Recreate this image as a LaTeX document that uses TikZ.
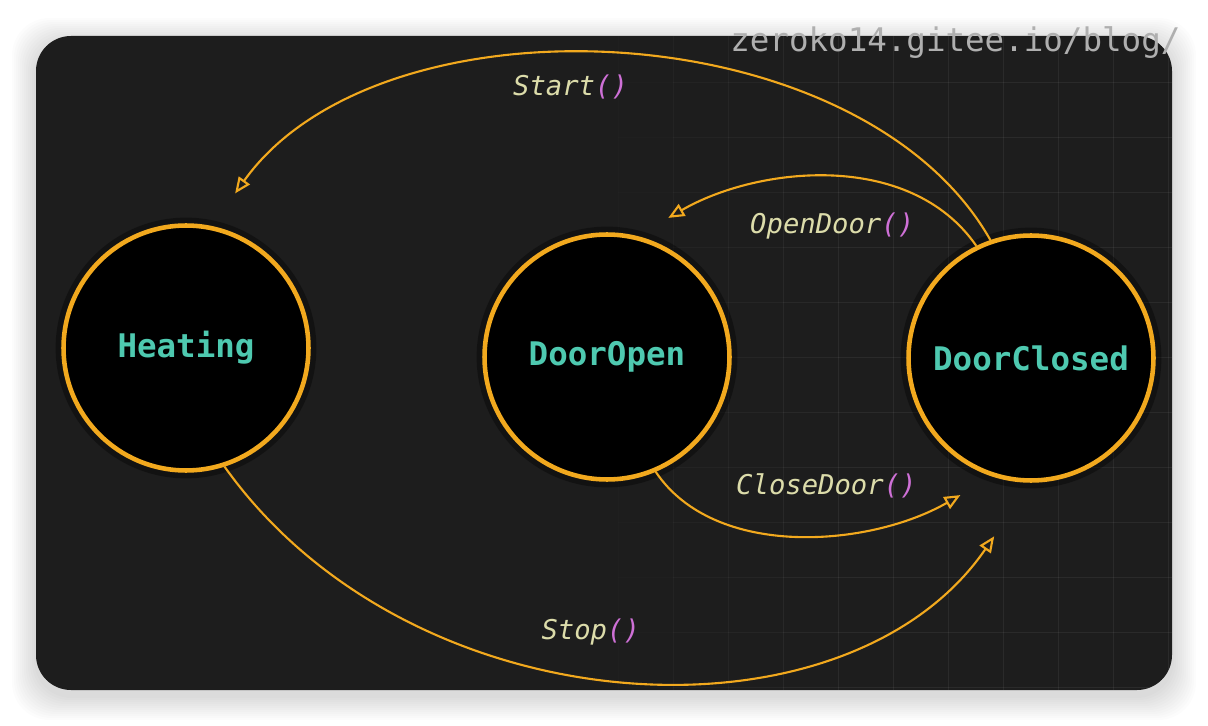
\documentclass[tikz,border=0pt]{standalone}
\usepackage{fontspec}
\usepackage{tikz}
\usetikzlibrary{arrows.meta, positioning}
\newfontfamily\codefont{DejaVu Sans Mono}
\definecolor{boardbg}{RGB}{29,29,29}
\definecolor{amber}{RGB}{242,169,30}
\definecolor{stateteal}{RGB}{78,201,176}
\definecolor{fnyellow}{RGB}{220,220,170}
\definecolor{parenpink}{RGB}{206,112,214}
\definecolor{markgray}{RGB}{175,175,175}
\newcommand{\callname}[1]{#1\textcolor{parenpink}{()}}
\tikzset{
    fsm_state/.style={circle, draw=amber, line width=2.6pt, fill=black, minimum size=4.9cm, inner sep=0pt, text=stateteal, font=\codefont\bfseries\fontsize{18.5pt}{22pt}\selectfont, preaction={draw=black, line width=9pt, opacity=0.35}},
    trans/.style={-{Triangle[open, length=0.32cm, width=0.27cm]}, draw=amber, line width=1.2pt},
    call/.style={text=fnyellow, font=\codefont\itshape\fontsize{15.5pt}{18pt}\selectfont, inner sep=0pt},
    gridline/.style={draw=white, line width=0.5pt}
}

\begin{document}
\begin{tikzpicture}[x=0.02cm, y=-0.02cm]
    \useasboundingbox (0,0) rectangle (1208,726);
    \fill[white] (0,0) rectangle (1208,726);
    % soft shadow under the board
    \foreach \s in {1,...,12}
        \fill[black, opacity=0.012, rounded corners=0.75cm] (36-2*\s,42-2*\s) rectangle (1172+2*\s,696+2*\s);
    \fill[boardbg, rounded corners=0.7cm] (36,36) rectangle (1172,690);

    % faint grid, fading out to the left
    \begin{scope}
        \clip[rounded corners=0.7cm] (36,36) rectangle (1172,690);
        \foreach \gx in {563,618,...,1168} {
            \pgfmathsetmacro\op{0.06*min(1,max(0,(\gx-560)/260))}
            \draw[gridline, opacity=\op] (\gx,36) -- (\gx,690);
            \foreach \gy in {82,137,...,687}
                \draw[gridline, opacity=\op] (\gx,\gy) -- ++(55,0);
        }
    \end{scope}

    % States
    \node (heating) [fsm_state] at (186,348) {Heating};
    \node (dooropen) [fsm_state] at (607,357) {DoorOpen};
    \node (doorclosed) [fsm_state] at (1031,358) {DoorClosed};

    % Transitions with their calls
    \draw [trans, shorten >=0.8cm] (doorclosed.109) .. controls (860,10) and (380,-10) .. (heating.78)
        node[call, pos=0.55, xshift=0.05cm, yshift=-0.56cm] {\callname{Start}};
    \draw [trans, shorten >=0.72cm] (doorclosed.116) .. controls (910,150) and (758,166) .. (dooropen.76)
        node[call, pos=0.5, xshift=0.1cm, yshift=-0.94cm] {\callname{OpenDoor}};
    \draw [trans, shorten >=0.74cm] (dooropen.-67) .. controls (715,560) and (870,547) .. (doorclosed.-108)
        node[call, pos=0.5, xshift=0.52cm, yshift=0.95cm] {\callname{CloseDoor}};
    \draw [trans, shorten >=1.3cm] (heating.-72) .. controls (412,730) and (846,752) .. (doorclosed.-90)
        node[call, pos=0.45, xshift=0.17cm, yshift=0.78cm] {\callname{Stop}};

    % Watermark
    \node (mark) [anchor=base west, inner sep=0pt, text=markgray, font=\codefont\fontsize{18.5pt}{22pt}\selectfont] at (730,52) {zeroko14.gitee.io/blog/};
\end{tikzpicture}
\end{document}
